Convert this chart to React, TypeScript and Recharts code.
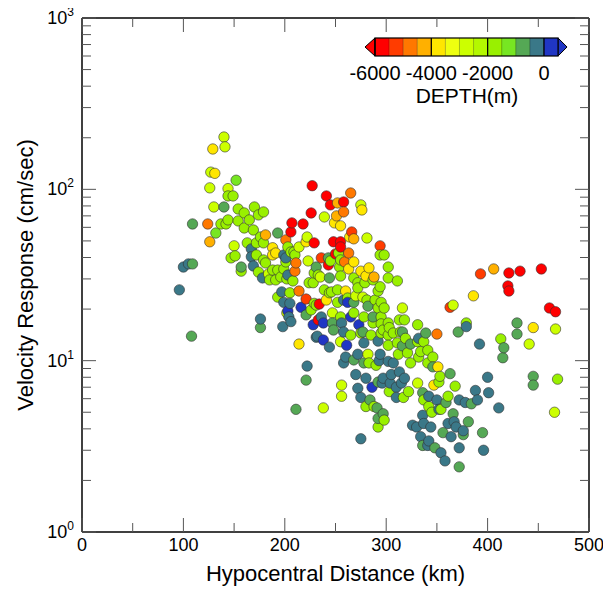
import React from "react";
import { ScatterChart, Scatter, XAxis, YAxis } from "recharts";

// velocity response vs hypocentral distance, coloured by hypocentre depth

const CHART_W = 611;
const CHART_H = 592;
const FONT = "'Liberation Sans', Arial, Helvetica, sans-serif";

const xTicks = [0, 50, 100, 150, 200, 250, 300, 350, 400, 450, 500];
const yTicks = [
  1, 2, 3, 4, 5, 6, 7, 8, 9,
  10, 20, 30, 40, 50, 60, 70, 80, 90,
  100, 200, 300, 400, 500, 600, 700, 800, 900, 1000,
];

// colour scale: 500 m bins from -6000 m upwards
const DEPTH_MIN = -6000;
const DEPTH_STEP = 500;
const depthColors = [
  "#ff0000", "#ff3c00", "#ff7800", "#ffb000", "#ffe600", "#eeff10", "#ccff00",
  "#b4f800", "#99f000", "#77e622", "#55a855", "#3a7888", "#2036c4",
];
const colorbarLabels = [-6000, -4000, -2000, 0];

// [distance km, velocity cm/s] per depth class
const red: [number, number][] = [
  [206, 56.4], [207, 63.7], [218, 62.8], [227, 105], [241, 91.5], [245, 81.1], [226, 72.8],
  [229, 48.7], [243, 36.2], [234, 21.4], [233, 17.3], [258, 84.4], [248, 49.4], [255, 49.4],
  [255, 46.1], [250, 42], [421, 32.5], [432, 33.3], [453, 34.3], [420, 27.3], [421, 25.5],
  [461, 20.3], [467, 19.3],
];
const redOrange: [number, number][] = [
  [236, 39.8], [221, 22.9], [266, 56.4], [294, 46.8], [393, 32.1], [363, 20.5],
];
const orange: [number, number][] = [
  [124, 62.8], [201, 50.7], [211, 37.2], [210, 33.3], [214, 25.5], [265, 95.2], [258, 73.8],
  [263, 42.5], [259, 37.7], [350, 14.3],
];
const gold: [number, number][] = [
  [126, 49.4], [181, 54.2], [252, 83.3], [251, 70], [268, 51.4], [288, 30.8], [406, 34.3],
];
const yellow: [number, number][] = [
  [131, 124], [129, 172], [188, 45.6], [188, 41.4], [221, 49.4], [241, 22.6], [191, 42.5],
  [276, 75.8], [249, 63.7], [255, 61.2], [264, 52.7], [268, 37.7], [263, 34.3], [275, 33.3],
  [283, 34.8], [280, 31.2], [260, 25.5], [214, 12.5], [351, 9.2], [386, 23.9], [445, 15.6],
  [347, 7.2],
];
const yellowLime: [number, number][] = [
  [127, 126], [126, 102], [140, 202], [141, 177], [130, 78.9], [144, 101], [150, 46.8],
  [184, 32.1], [214, 46.1], [239, 69], [222, 52.7], [223, 38.2], [235, 30.8], [275, 81.1],
  [281, 52], [270, 23.9], [277, 23.5], [316, 20.3], [247, 19], [202, 19], [238, 5.3],
  [255, 12.9], [282, 10.9], [256, 7.2], [256, 6.2], [331, 7.4], [366, 21.1], [467, 15.3],
  [441, 12.5], [466, 5],
];
const lime: [number, number][] = [
  [144, 91.5], [149, 91.5], [154, 76.8], [170, 78.9], [179, 73.8], [160, 72.8], [165, 66.3],
  [174, 70.9], [144, 66.3], [142, 62.8], [137, 62.8], [154, 65.4], [160, 59.5], [169, 57.9],
  [176, 52.7], [163, 48.7], [172, 48.7], [179, 48.7], [151, 40.9], [147, 39.8], [157, 33.3],
  [172, 41.4], [179, 38.7], [181, 37.2], [174, 32.9], [188, 33.8], [193, 33.8], [191, 29.6],
  [196, 30.8], [203, 46.1], [209, 43.1], [201, 37.7], [199, 34.3], [208, 29.2], [224, 28.5],
  [229, 32.5], [244, 24.9], [193, 23.5], [226, 19.8], [185, 29.6], [202, 30], [206, 43.1],
  [210, 41.4], [233, 31.6], [205, 24.9], [229, 21.6], [245, 38.2], [253, 42.5], [255, 38.7],
  [294, 41.4], [298, 41.4], [302, 35.2], [254, 35.2], [255, 31.2], [228, 28.5], [268, 30.4],
  [272, 28.5], [287, 29.6], [294, 27], [292, 25.5], [311, 29.2], [302, 30.4], [246, 25.2],
  [239, 25.9], [252, 25.9], [262, 23.2], [272, 26.6], [279, 28.5], [252, 21.9], [281, 22.6],
  [289, 22.6], [295, 21.9], [255, 18], [268, 19], [278, 18], [295, 18], [292, 20.3],
  [298, 20.3], [287, 16.6], [295, 16.4], [302, 16.6], [313, 17.3], [318, 17.3], [331, 16.2],
  [297, 15.1], [303, 15.6], [307, 14.5], [231, 21.1], [265, 14.1], [275, 14.5], [285, 14.1],
  [295, 14.5], [302, 14.1], [302, 12.3], [311, 12.7], [314, 14.7], [319, 13.5], [331, 12.9],
  [337, 12.9], [341, 11.5], [283, 9.7], [290, 9.4], [312, 10.9], [321, 11.1], [324, 9.7],
  [332, 10.5], [334, 11.3], [341, 9.7], [346, 10.5], [353, 8.1], [280, 5.4], [288, 5.4],
  [303, 6.6], [317, 6.1], [322, 6.6], [337, 5.9], [342, 5.4], [345, 5], [298, 4.5],
  [292, 4.1], [352, 7.5], [379, 16.6], [413, 13.4], [469, 7.8], [368, 7.1], [361, 6.2],
  [354, 5.2],
];
const green: [number, number][] = [[152, 113], [132, 55.6]];
const mutedGreen: [number, number][] = [
  [109, 36.7], [108, 13.9], [109, 62.8], [140, 78.9], [157, 35.2], [176, 15.6], [193, 55.6],
  [243, 39.8], [231, 35.2], [244, 30.4], [268, 21.9], [247, 16.6], [282, 20.8], [287, 18],
  [316, 14.7], [248, 15.1], [277, 14.7], [221, 18.5], [221, 7.7], [211, 5.2], [324, 12.5],
  [339, 14.5], [268, 10.1], [278, 9.7], [284, 5.9], [291, 5.3], [336, 6.5], [292, 4.6],
  [297, 4.9], [348, 3.1], [292, 7.5], [316, 12.2], [371, 14.7], [429, 16.6], [429, 14.3],
  [416, 11.9], [415, 10.4], [346, 9.2], [363, 8.4], [445, 8.1], [445, 7.2], [384, 5.6],
  [359, 5.7], [366, 4.9], [381, 4.4], [376, 3.7], [356, 3.8], [336, 3.2], [395, 3.8],
  [372, 2.4],
];
const teal: [number, number][] = [
  [96, 25.9], [100, 35.2], [105, 36.7], [167, 44.9], [167, 40.4], [169, 35.7], [178, 30.4],
  [176, 17.5], [199, 41.4], [201, 39.8], [197, 25.2], [199, 21.9], [205, 21.6], [203, 31.6],
  [258, 22.6], [236, 18], [256, 16.6], [258, 14.7], [198, 15.8], [206, 16.9], [204, 18],
  [232, 13.9], [222, 9.3], [231, 13.7], [244, 12], [278, 12.7], [292, 13], [260, 10.5],
  [272, 10.9], [258, 9.7], [294, 10.9], [293, 10], [302, 9.9], [307, 9.7], [270, 8.3],
  [280, 7.9], [272, 6.9], [275, 6.1], [297, 7.9], [305, 8.3], [313, 8.6], [318, 7.9],
  [296, 7.4], [304, 7.4], [310, 7], [315, 7.4], [310, 6.1], [342, 6.2], [350, 5.9],
  [352, 5.2], [326, 4.2], [330, 4.1], [336, 4.8], [337, 4.3], [344, 4.1], [334, 3.6],
  [342, 3.4], [275, 3.5], [332, 13.5], [341, 3.2], [379, 15.8], [392, 12.5], [400, 8],
  [401, 6.5], [388, 6.7], [390, 5.9], [372, 5.9], [378, 5.7], [411, 5.3], [361, 4.3],
  [367, 4.4], [369, 4.1], [376, 3.9], [364, 3.6], [372, 3.1], [396, 3], [354, 2.9],
  [358, 2.6],
];
const blue: [number, number][] = [
  [216, 20.5], [203, 19.5], [262, 21.9], [238, 16.6], [228, 16.2], [265, 18], [273, 16.2],
  [238, 13.2], [261, 12.3], [286, 7],
];

const depthGroups: { depth: number; points: [number, number][] }[] = [
  { depth: -5750, points: red },
  { depth: -5250, points: redOrange },
  { depth: -4750, points: orange },
  { depth: -4250, points: gold },
  { depth: -3750, points: yellow },
  { depth: -2750, points: yellowLime },
  { depth: -1750, points: lime },
  { depth: -1250, points: green },
  { depth: -750, points: mutedGreen },
  { depth: -250, points: teal },
  { depth: 250, points: blue },
];

const records = depthGroups
  .flatMap((g) => g.points.map(([x, y]) => ({ x, y, depth: g.depth })))
  .sort((a, b) => a.x - b.x);

function depthColor(depth: number) {
  const i = Math.floor((depth - DEPTH_MIN) / DEPTH_STEP);
  return depthColors[Math.max(0, Math.min(depthColors.length - 1, i))];
}

const MAJOR = 14;
const MINOR = 9;
const TICK_STROKE = "#555";

const isDecade = (v: number) => Math.abs(Math.log10(v) - Math.round(Math.log10(v))) < 1e-9;

const BottomTick = ({ x, y, payload }: any) => {
  const v = payload.value;
  const major = v % 100 === 0;
  return (
    <g>
      <line x1={x} x2={x} y1={y} y2={y - (major ? MAJOR : MINOR)} stroke={TICK_STROKE} />
      {major && (
        <text x={x} y={y + 19} textAnchor="middle" fontSize={18} fontFamily={FONT} fill="#000">
          {v}
        </text>
      )}
    </g>
  );
};

const TopTick = ({ x, y, payload }: any) => {
  const major = payload.value % 100 === 0;
  return <line x1={x} x2={x} y1={y} y2={y + (major ? MAJOR : MINOR)} stroke={TICK_STROKE} />;
};

const LeftTick = ({ x, y, payload }: any) => {
  const v = payload.value;
  const major = isDecade(v);
  return (
    <g>
      <line x1={x} x2={x + (major ? MAJOR : MINOR)} y1={y} y2={y} stroke={TICK_STROKE} />
      {major && (
        <text x={x - 8} y={y + 6} textAnchor="end" fontSize={18} fontFamily={FONT} fill="#000">
          <tspan>10</tspan>
          <tspan dy={-8} fontSize={12}>{Math.round(Math.log10(v))}</tspan>
        </text>
      )}
    </g>
  );
};

const RightTick = ({ x, y, payload }: any) => {
  const major = isDecade(payload.value);
  return <line x1={x} x2={x - (major ? MAJOR : MINOR)} y1={y} y2={y} stroke={TICK_STROKE} />;
};

const Dot = (props: any) => {
  const { cx, cy, payload } = props;
  if (cx == null || cy == null) return null;
  return (
    <circle
      cx={cx}
      cy={cy}
      r={5.2}
      fill={depthColor(payload.depth)}
      stroke="#333"
      strokeOpacity={0.75}
      strokeWidth={0.8}
    />
  );
};

const frame = { stroke: "#000", strokeWidth: 1.5 };

const Colorbar = () => {
  const x0 = 375;
  const y0 = 38;
  const h = 18;
  const w = 14.08;
  const x1 = x0 + w * depthColors.length;
  const xOf = (d: number) => x0 + ((d - DEPTH_MIN) / DEPTH_STEP) * w;
  return (
    <g>
      <polygon points={`${x0},${y0} ${x0},${y0 + h} ${x0 - 10},${y0 + h / 2}`} fill={depthColors[0]} stroke="#000" />
      <polygon
        points={`${x1},${y0} ${x1},${y0 + h} ${x1 + 9},${y0 + h / 2}`}
        fill={depthColors[depthColors.length - 1]}
        stroke="#000"
      />
      {depthColors.map((c, i) => (
        <rect key={c} x={x0 + i * w} y={y0} width={w + 0.3} height={h} fill={c} />
      ))}
      {depthColors.map((c, i) =>
        i === 0 ? null : (
          <line key={"b" + c} x1={x0 + i * w} x2={x0 + i * w} y1={y0} y2={y0 + h} stroke="#000" strokeOpacity={0.35} strokeWidth={0.8} />
        )
      )}
      {colorbarLabels.map((d) => (
        <line key={"m" + d} x1={xOf(d)} x2={xOf(d)} y1={y0} y2={y0 + h} stroke="#000" strokeWidth={1.2} />
      ))}
      <rect x={x0} y={y0} width={x1 - x0} height={h} fill="none" stroke="#000" strokeWidth={1.2} />
      {colorbarLabels.map((d) => (
        <text key={"t" + d} x={xOf(d)} y={80} textAnchor="middle" fontSize={20} fontFamily={FONT}>
          {d}
        </text>
      ))}
      <text x={467} y={103} textAnchor="middle" fontSize={21} fontFamily={FONT}>
        DEPTH(m)
      </text>
    </g>
  );
};

export default function App() {
  return (
    <div style={{ position: "relative", width: CHART_W, height: CHART_H, margin: "-8px 0 0 -8px", fontFamily: FONT }}>
      <ScatterChart width={CHART_W} height={CHART_H} margin={{ top: 8, right: 12, bottom: 0, left: 0 }}>
        <XAxis
          xAxisId="b"
          orientation="bottom"
          type="number"
          dataKey="x"
          domain={[0, 500]}
          ticks={xTicks}
          interval={0}
          tickSize={0}
          tickMargin={0}
          height={60}
          axisLine={frame}
          tick={(p: any) => <BottomTick {...p} />}
          allowDataOverflow
        />
        <XAxis
          xAxisId="t"
          orientation="top"
          type="number"
          dataKey="x"
          domain={[0, 500]}
          ticks={xTicks}
          interval={0}
          tickSize={0}
          tickMargin={0}
          height={10}
          axisLine={frame}
          tick={(p: any) => <TopTick {...p} />}
          allowDataOverflow
        />
        <YAxis
          yAxisId="l"
          orientation="left"
          type="number"
          dataKey="y"
          scale="log"
          domain={[1, 1000]}
          ticks={yTicks}
          interval={0}
          tickSize={0}
          tickMargin={0}
          width={82}
          axisLine={frame}
          tick={(p: any) => <LeftTick {...p} />}
          allowDataOverflow
        />
        <YAxis
          yAxisId="r"
          orientation="right"
          type="number"
          dataKey="y"
          scale="log"
          domain={[1, 1000]}
          ticks={yTicks}
          interval={0}
          tickSize={0}
          tickMargin={0}
          width={10}
          axisLine={frame}
          tick={(p: any) => <RightTick {...p} />}
          allowDataOverflow
        />
        <Scatter data={records} xAxisId="b" yAxisId="l" shape={Dot} isAnimationActive={false} />
      </ScatterChart>
      <svg
        width={CHART_W}
        height={CHART_H}
        style={{ position: "absolute", left: 0, top: 0, pointerEvents: "none" }}
      >
        <text x={335.5} y={581} textAnchor="middle" fontSize={22} fontFamily={FONT}>
          Hypocentral Distance (km)
        </text>
        <text
          x={33}
          y={275}
          textAnchor="middle"
          fontSize={22}
          fontFamily={FONT}
          transform="rotate(-90, 33, 275)"
        >
          Velocity Response (cm/sec)
        </text>
        <Colorbar />
      </svg>
    </div>
  );
}
